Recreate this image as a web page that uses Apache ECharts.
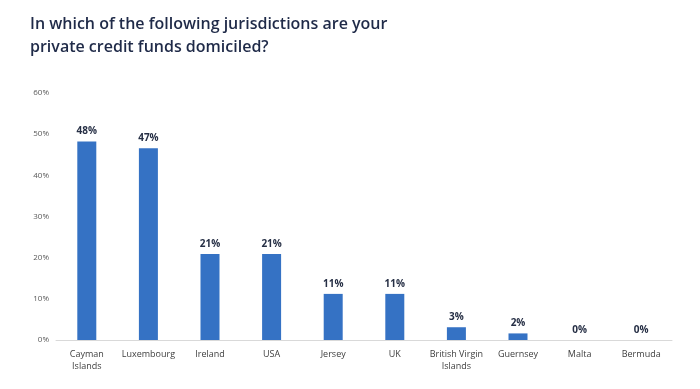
<!DOCTYPE html>
<html><head><meta charset="utf-8">
<script src="https://cdn.jsdelivr.net/npm/echarts@6/dist/echarts.min.js"></script>
<style>html,body{margin:0;padding:0;background:#fff}#c{width:700px;height:389px}</style>
</head><body><div id="c"></div>
<script>
const titleText = "In which of the following jurisdictions are your\nprivate credit funds domiciled?";
const categories = ["Cayman\nIslands","Luxembourg","Ireland","USA","Jersey","UK","British Virgin\nIslands","Guernsey","Malta","Bermuda"];
const values = [48.2, 46.6, 20.9, 20.9, 11.2, 11.2, 3.1, 1.6, 0, 0];
const yTicks = [0, 10, 20, 30, 40, 50, 60];

const chart = echarts.init(document.getElementById('c'), null, {renderer:'canvas'});
chart.setOption({
  animation:false,
  title:{text:titleText,left:25,top:8,textStyle:{fontFamily:'Open Sans',fontSize:16,fontWeight:600,color:'#1f2a48',lineHeight:23}},
  grid:{left:56,right:28,top:93,bottom:49},
  xAxis:{type:'category',data:categories,
    axisLine:{lineStyle:{color:'#d9d9d9'}},axisTick:{show:false},
    axisLabel:{fontFamily:'Open Sans',fontSize:9,color:'#404040',margin:8,lineHeight:12,interval:0}},
  yAxis:{type:'value',min:yTicks[0],max:yTicks[yTicks.length-1],interval:10,
    splitLine:{show:false},axisLine:{show:false},axisTick:{show:false},
    axisLabel:{fontFamily:'Open Sans',fontSize:8,color:'#595959',formatter:v=>v+'%',margin:7}},
  series:[{type:'bar',data:values,barWidth:19,
    itemStyle:{color:'#3572c4'},
    label:{show:true,position:'top',distance:5,formatter:p=>Math.round(p.value)+'%',
      fontFamily:'Open Sans',fontSize:10,fontWeight:'bold',color:'#262f45'}}]
});
</script></body></html>
